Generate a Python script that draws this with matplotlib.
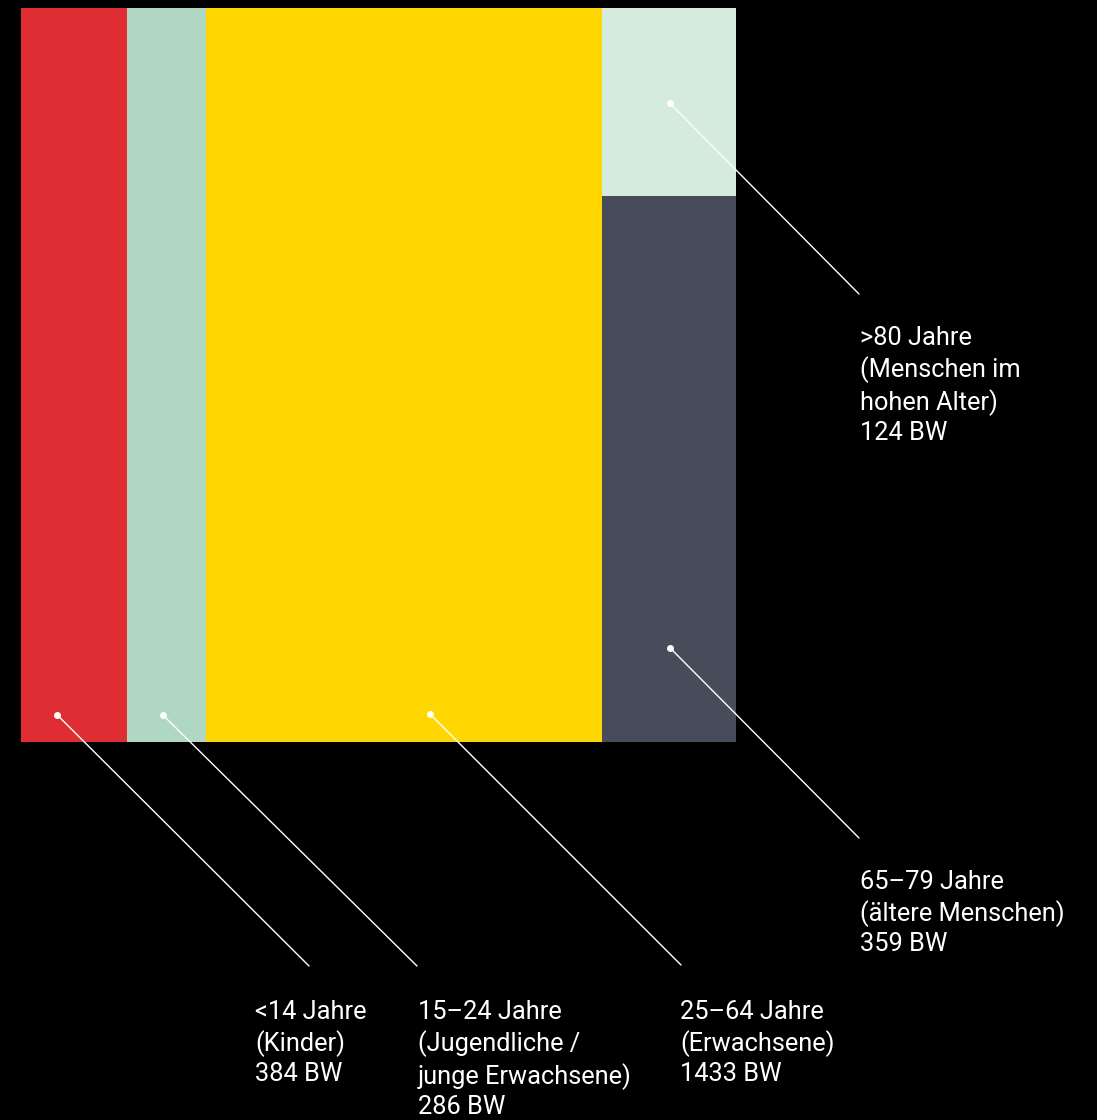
import matplotlib
matplotlib.use("Agg")
import matplotlib.pyplot as plt
from matplotlib.patches import Rectangle

# ── Data ──────────────────────────────────────────────────────────────────────
groups = ["<14 Jahre", "15–24 Jahre", "25–64 Jahre", "65–79 Jahre", ">80 Jahre"]
descr = ["(Kinder)", "(Jugendliche /\njunge Erwachsene)", "(Erwachsene)",
         "(ältere Menschen)", "(Menschen im\nhohen Alter)"]
values = [384, 286, 1433, 359, 124]
colors = ["#DE2D33", "#B0D7C2", "#FFD600", "#484B5A", "#D5EBDE"]

# ── Layout ────────────────────────────────────────────────────────────────────
W, H = 1097, 1120
BG = "#000000"
# anchor of the leader line inside each tile (fraction of tile width/height)
anchor = [(0.34, 0.037), (0.45, 0.037), (0.565, 0.038), (0.504, 0.173), (0.504, 0.495)]
# label top-left in figure pixels (from top)
label_pos = [(255, 1000), (418, 1000), (680, 1000), (860, 870), (860, 326)]
line_end = [(309, 966), (417, 966), (681, 965), (859, 838), (859, 294)]

fig = plt.figure(figsize=(W / 100, H / 100), dpi=100)
fig.patch.set_facecolor(BG)
ax = fig.add_axes([21 / W, (H - 742) / H, 715 / W, 734 / H])
ax.set_facecolor(BG)
ax.axis("off")

total = sum(values)
ax.set_xlim(0, total)
ax.set_ylim(0, 1)

# columns: first three full height, last two stacked
tiles = []
x0 = 0
for v in values[:3]:
    tiles.append((x0, 0, v, 1))
    x0 += v
col = values[3] + values[4]
h_old = values[3] / col
tiles.append((x0, 0, col, h_old))
tiles.append((x0, h_old, col, 1 - h_old))

for (x, y, w, h), c in zip(tiles, colors):
    ax.add_patch(Rectangle((x, y), w, h, facecolor=c, edgecolor="none"))

for i, (x, y, w, h) in enumerate(tiles):
    fx, fy = anchor[i]
    px, py = x + fx * w, y + fy * h
    ax.plot(px, py, "o", color="white", markersize=4, zorder=5, clip_on=False)
    ex, ey = line_end[i]
    ax.annotate("", xy=(px, py), xycoords="data",
                xytext=(ex, H - ey), textcoords="figure pixels",
                arrowprops=dict(arrowstyle="-", color="white", lw=1.0,
                                shrinkA=0, shrinkB=0))
    lx, ly = label_pos[i]
    fig.text(lx / W, 1 - ly / H,
             f"{groups[i]}\n{descr[i]}\n{values[i]} BW",
             ha="left", va="top", color="white", fontsize=18.3,
             family="Roboto", linespacing=1.29)

fig.savefig("out.png", dpi=100, facecolor=BG)
